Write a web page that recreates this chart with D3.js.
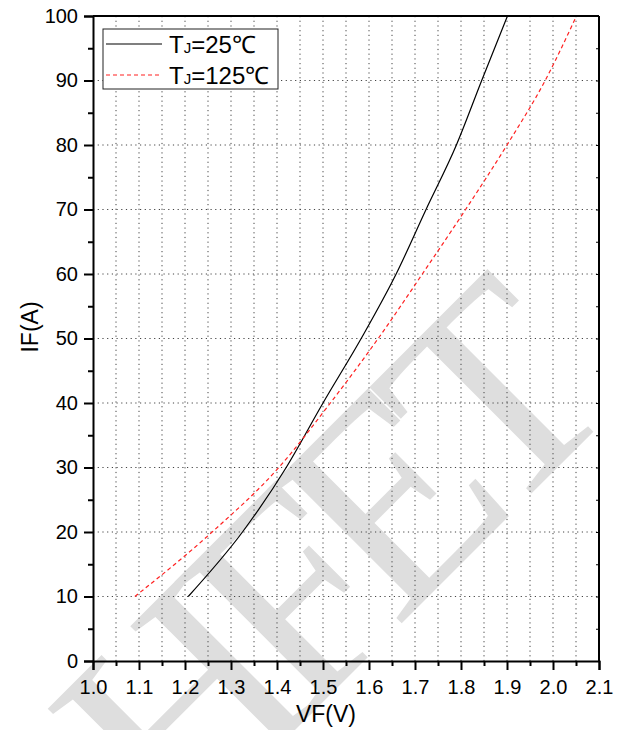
<!DOCTYPE html>
<html>
<head>
<meta charset="utf-8">
<script src="https://cdn.jsdelivr.net/npm/d3@7"></script>
<style>
  body { margin: 0; background: #fff; }
  svg { display: block; }
</style>
</head>
<body>
<div id="chart-area"></div>
<script>
// forward voltage (V) vs forward current (A)
let if25 = [10, 20, 30, 40, 50, 60, 70, 80, 90, 100];
let vf25 = [1.207, 1.325, 1.42, 1.50, 1.583, 1.659, 1.724, 1.79, 1.845, 1.901];
let if125 = [10, 20, 30, 40, 50, 60, 70, 80, 90, 100];
let vf125 = [1.091, 1.259, 1.404, 1.516, 1.62, 1.716, 1.81, 1.90, 1.983, 2.051];

let xTicks = [1.0, 1.1, 1.2, 1.3, 1.4, 1.5, 1.6, 1.7, 1.8, 1.9, 2.0, 2.1];
let yTicks = [0, 10, 20, 30, 40, 50, 60, 70, 80, 90, 100];
let legendNames = ["25℃", "125℃"];

let margin = {top: 16, right: 22, bottom: 69, left: 93},
  width = 621 - margin.left - margin.right,
  height = 730 - margin.top - margin.bottom;

let root = d3.select("#chart-area")
  .append("svg")
  .attr("width", 621)
  .attr("height", 730);

// watermark, under everything
root.append("text")
  .attr("transform", "translate(390,635) rotate(-45)")
  .attr("text-anchor", "middle")
  .style("font-family", "Liberation Serif, serif")
  .style("font-size", "290px")
  .style("letter-spacing", "-30px")
  .style("fill", "#dedede")
  .text("HFET");

let svg = root.append("g")
  .attr("transform", "translate(" + margin.left + "," + margin.top + ")");

let x = d3.scaleLinear().domain([1.0, 2.1]).range([0, width]);
let y = d3.scaleLinear().domain([0, 100]).range([height, 0]);

// ---- grid ----
let vgrid = d3.range(1.05, 2.09, 0.05);
svg.append("g").selectAll("line")
  .data(vgrid)
  .enter().append("line")
  .attr("x1", d => x(d)).attr("x2", d => x(d))
  .attr("y1", 0).attr("y2", height)
  .attr("stroke", "#444")
  .attr("stroke-width", 1)
  .attr("stroke-dasharray", "1.2,3.5");

svg.append("g").selectAll("line")
  .data(yTicks.slice(1, -1))
  .enter().append("line")
  .attr("x1", 0).attr("x2", width)
  .attr("y1", d => y(d)).attr("y2", d => y(d))
  .attr("stroke", "#444")
  .attr("stroke-width", 1)
  .attr("stroke-dasharray", "1.2,3.5");

// ---- curves ----
let line = d3.line()
  .x(d => x(d[0]))
  .y(d => y(d[1]))
  .curve(d3.curveMonotoneX);

svg.append("path")
  .datum(d3.zip(vf25, if25))
  .attr("d", line)
  .attr("fill", "none")
  .attr("stroke", "#000")
  .attr("stroke-width", 1.2);

svg.append("path")
  .datum(d3.zip(vf125, if125))
  .attr("d", line)
  .attr("fill", "none")
  .attr("stroke", "#ff2020")
  .attr("stroke-width", 1.2)
  .attr("stroke-dasharray", "4,3");

// ---- axes ----
let minorX = d3.range(1.05, 2.1, 0.1);
let minorY = d3.range(5, 100, 10);
let tickFont = "Liberation Sans, Arial, sans-serif";

svg.append("g")
  .attr("transform", "translate(0," + height + ")")
  .call(d3.axisBottom(x).tickValues(minorX).tickSize(5).tickFormat(""))
  .call(g => g.select(".domain").remove())
  .selectAll("line").attr("stroke-width", 2);

let xAxisGroup = svg.append("g")
  .attr("transform", "translate(0," + height + ")")
  .call(d3.axisBottom(x).tickValues(xTicks).tickSize(9).tickPadding(10).tickFormat(d3.format(".1f")))
  .attr("font-size", 20)
  .attr("font-family", tickFont);
xAxisGroup.selectAll("line").attr("stroke-width", 2);
xAxisGroup.select(".domain").attr("stroke-width", 2);
xAxisGroup.selectAll("text").attr("fill", "#000");

svg.append("g")
  .call(d3.axisLeft(y).tickValues(minorY).tickSize(5).tickFormat(""))
  .call(g => g.select(".domain").remove())
  .selectAll("line").attr("stroke-width", 2);

let yAxisGroup = svg.append("g")
  .call(d3.axisLeft(y).tickValues(yTicks).tickSize(9).tickPadding(6))
  .attr("font-size", 20)
  .attr("font-family", tickFont);
yAxisGroup.selectAll("line").attr("stroke-width", 2);
yAxisGroup.select(".domain").attr("stroke-width", 2);
yAxisGroup.selectAll("text").attr("fill", "#000");

// right side: small inward ticks
svg.append("g")
  .attr("transform", "translate(" + width + ",0)")
  .call(d3.axisLeft(y).tickValues(d3.range(5, 100, 5)).tickSize(3).tickFormat(""))
  .call(g => g.select(".domain").attr("stroke-width", 2).attr("d", "M0,0V" + height))
  .selectAll("line").attr("stroke-width", 1);

// top border
svg.append("line")
  .attr("x1", 0).attr("x2", width)
  .attr("y1", 0).attr("y2", 0)
  .attr("stroke", "#000").attr("stroke-width", 2);

// ---- axis titles ----
svg.append("text")
  .attr("x", 233)
  .attr("y", height + 61)
  .style("text-anchor", "middle")
  .style("font-family", "Liberation Sans, Arial, sans-serif")
  .style("font-size", "23px")
  .text("VF(V)");

svg.append("text")
  .attr("transform", "rotate(-90)")
  .attr("x", -(327 - margin.top))
  .attr("y", -margin.left + 38)
  .style("text-anchor", "middle")
  .style("font-family", "Liberation Sans, Arial, sans-serif")
  .style("font-size", "23px")
  .text("IF(A)");

// ---- legend ----
let legend = svg.append("g").attr("transform", "translate(10,13)");
legend.append("rect")
  .attr("x", 0).attr("y", 0)
  .attr("width", 175).attr("height", 60)
  .attr("fill", "#fff")
  .attr("stroke", "#222")
  .attr("stroke-width", 1);

let styles = [
  {stroke: "#000", dash: null},
  {stroke: "#ff2020", dash: "4,3"}
];

legendNames.forEach(function(name, i) {
  let yy = 15 + i * 31;
  legend.append("line")
    .attr("x1", 3).attr("x2", 59)
    .attr("y1", yy).attr("y2", yy)
    .attr("stroke", styles[i].stroke)
    .attr("stroke-width", 1.2)
    .attr("stroke-dasharray", styles[i].dash);
  let t = legend.append("text")
    .attr("x", 66)
    .attr("y", yy + 9)
    .style("font-family", "Liberation Sans, Arial, sans-serif")
    .style("font-size", "24px");
  t.append("tspan").text("T");
  t.append("tspan").style("font-size", "15px").text("J");
  t.append("tspan").text("=" + name);
});
</script>
</body>
</html>
